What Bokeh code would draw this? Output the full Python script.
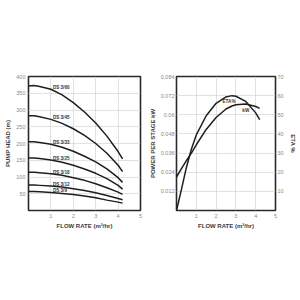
from bokeh.plotting import figure
from bokeh.layouts import row
from bokeh.models import Range1d, FixedTicker, LinearAxis, CustomJSTickFormatter
from bokeh.core.properties import value
from bokeh.embed import file_html
from bokeh.resources import INLINE

# ---------------- data ----------------
flow = [0, 0.25, 0.5, 1, 1.5, 2, 2.5, 3, 3.5, 4, 4.2]
models = ["DS 3/60", "DS 3/45", "DS 3/33", "DS 3/25", "DS 3/18", "DS  3/12", "DS 3/9"]
head_3_60 = [372, 373, 370, 362, 345, 322, 294, 261, 222, 176, 154]
head_3_45 = [283, 283, 280, 272, 260, 244, 224, 200, 171, 135, 116]
head_3_33 = [205, 205, 203, 198, 189, 177, 162, 145, 124, 98, 84]
head_3_25 = [157, 157, 155, 151, 144, 135, 124, 111, 95, 75, 64]
head_3_18 = [114, 114, 113, 110, 105, 98, 90, 80, 68, 55, 48]
head_3_12 = [76, 76, 75, 73, 70, 65, 60, 53, 45, 36, 32]
head_3_9 = [57, 57, 56, 54, 51, 48, 43, 38, 31, 25, 22]
heads = [head_3_60, head_3_45, head_3_33, head_3_25, head_3_18, head_3_12, head_3_9]

flow_r = [0, 0.25, 0.5, 0.75, 1, 1.5, 2, 2.5, 2.8, 3, 3.5, 4, 4.2]
kw = [0.021, 0.0262, 0.0312, 0.036, 0.0412, 0.0508, 0.0583, 0.0636, 0.0655, 0.0663, 0.0667, 0.0652, 0.064]
eta = [0, 11, 22.5, 32, 39.5, 49.5, 56, 59.3, 60, 59.7, 57, 51, 47.5]

x_ticks = [1, 2, 3, 4, 5]
head_ticks = [50, 100, 150, 200, 250, 300, 350, 400]
kw_ticks = [0.012, 0.024, 0.036, 0.048, 0.06, 0.072, 0.084]
eta_ticks = [10, 20, 30, 40, 50, 60, 70]

FONT = "Liberation Sans"
LINE = "#1e1e1e"
GRID = "#d4d4d4"
TICKC = "#8a8a8a"
LABC = "#3a3a3a"


def style(p):
    p.outline_line_color = "#2a2a2a"
    p.outline_line_width = 1.6
    p.background_fill_color = "white"
    p.border_fill_color = "white"
    for g in p.grid:
        g.grid_line_color = GRID
        g.grid_line_width = 0.7
    for ax in p.axis:
        ax.axis_line_color = None
        ax.major_tick_line_color = None
        ax.minor_tick_line_color = None
        ax.major_tick_out = 0
        ax.major_tick_in = 0
        ax.minor_tick_out = 0
        ax.minor_tick_in = 0
        ax.major_label_text_font = FONT
        ax.major_label_text_font_size = "5.5px"
        ax.major_label_text_color = TICKC
        ax.major_label_standoff = 3
        ax.axis_label_text_font = FONT
        ax.axis_label_text_font_size = "6px"
        ax.axis_label_text_font_style = "bold"
        ax.axis_label_text_color = LABC
        ax.axis_label_standoff = 2


# ---------------- left chart ----------------
p1 = figure(width=145, height=300, output_backend="svg", toolbar_location=None,
            x_range=Range1d(0, 5), y_range=Range1d(0, 400),
            min_border_left=28, min_border_right=5, min_border_top=76, min_border_bottom=90)
p1.xaxis.ticker = FixedTicker(ticks=x_ticks)
p1.yaxis.ticker = FixedTicker(ticks=head_ticks)
p1.xgrid.ticker = FixedTicker(ticks=x_ticks)
p1.ygrid.ticker = FixedTicker(ticks=head_ticks)
p1.xaxis.axis_label = "FLOW RATE (m³/hr)"
p1.yaxis.axis_label = "PUMP HEAD (m)"
style(p1)
p1.yaxis.major_label_standoff = 3
p1.yaxis.axis_label_standoff = 2

for name, h in zip(models, heads):
    p1.line(flow, h, line_color=LINE, line_width=1.5)
    p1.text(x=[flow[3]], y=[h[3]], text=[name], x_offset=2, y_offset=1,
            text_font=value(FONT), text_font_size="4.6px", text_font_style="bold",
            text_color="#333", text_baseline="bottom", text_align="left")

# ---------------- right chart ----------------
p2 = figure(width=155, height=300, output_backend="svg", toolbar_location=None,
            x_range=Range1d(0, 5), y_range=Range1d(0, 0.084),
            min_border_left=31, min_border_right=25, min_border_top=76, min_border_bottom=89)
p2.extra_y_ranges = {"eta": Range1d(0, 70)}
eta_axis = LinearAxis(y_range_name="eta", ticker=FixedTicker(ticks=eta_ticks), axis_label="ETA %")
p2.add_layout(eta_axis, "right")
p2.xaxis.ticker = FixedTicker(ticks=x_ticks)
p2.yaxis[0].ticker = FixedTicker(ticks=kw_ticks)
p2.yaxis[0].formatter = CustomJSTickFormatter(code="return String(Math.round(tick*1000)/1000);")
p2.xgrid.ticker = FixedTicker(ticks=x_ticks)
p2.ygrid.ticker = FixedTicker(ticks=kw_ticks)
p2.xaxis.axis_label = "FLOW RATE (m³/hr)"
p2.yaxis[0].axis_label = "POWER PER STAGE kW"
style(p2)
p2.yaxis[0].major_label_standoff = 2
p2.yaxis[0].axis_label_standoff = 2
eta_axis.major_label_standoff = 2
eta_axis.axis_label_standoff = 3

p2.line(flow_r, kw, line_color=LINE, line_width=1.5)
p2.line(flow_r, eta, y_range_name="eta", line_color=LINE, line_width=1.5)
p2.text(x=[flow_r[7]], y=[eta[7]], text=["ETA%"], x_offset=3, y_offset=2,
        y_range_name="eta", text_font=value(FONT), text_font_size="4.6px",
        text_font_style="bold", text_color="#333", text_baseline="top", text_align="center")
p2.text(x=[flow_r[10]], y=[kw[10]], text=["kW"], x_offset=0, y_offset=4,
        text_font=value(FONT), text_font_size="4.6px",
        text_font_style="bold", text_color="#333", text_baseline="top", text_align="center")

layout = row(p1, p2)
open("out.html", "w").write(file_html(layout, INLINE))
